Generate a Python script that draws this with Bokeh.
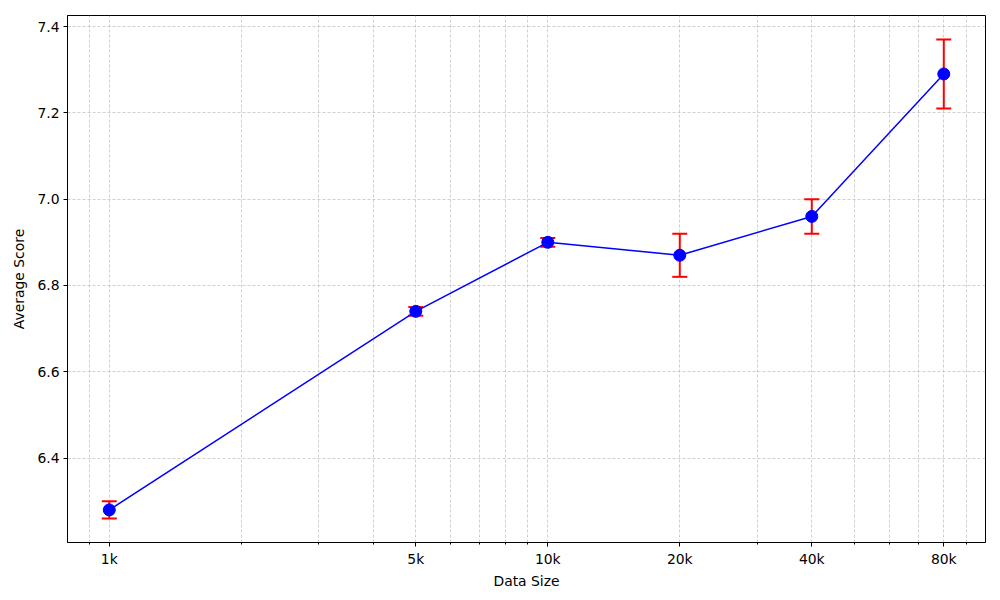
from bokeh.plotting import figure
from bokeh.models import Range1d, FixedTicker, Whisker, TeeHead, ColumnDataSource, PrintfTickFormatter
from bokeh.embed import file_html
from bokeh.resources import INLINE

data_size = [1000, 5000, 10000, 20000, 40000, 80000]
tick_labels = ["1k", "5k", "10k", "20k", "40k", "80k"]
avg_score = [6.28, 6.74, 6.90, 6.87, 6.96, 7.29]
score_err = [0.02, 0.01, 0.01, 0.05, 0.04, 0.08]
y_ticks = [6.4, 6.6, 6.8, 7.0, 7.2, 7.4]

lower = [s - e for s, e in zip(avg_score, score_err)]
upper = [s + e for s, e in zip(avg_score, score_err)]
src = ColumnDataSource(dict(x=data_size, y=avg_score, lower=lower, upper=upper))

FONT = "DejaVu Sans"

p = figure(width=1000, height=600, x_axis_type="log", output_backend="svg",
           toolbar_location=None,
           x_range=Range1d(803, 99590), y_range=Range1d(6.2045, 7.4255),
           min_border_left=67, min_border_right=15, min_border_top=15, min_border_bottom=58)

minor = [900, 2000, 3000, 4000, 6000, 7000, 8000, 9000,
         30000, 50000, 60000, 70000, 90000]
p.xaxis.ticker = FixedTicker(ticks=data_size, minor_ticks=minor)
p.xaxis.major_label_overrides = {x: l for x, l in zip(data_size, tick_labels)}
p.yaxis.ticker = FixedTicker(ticks=y_ticks)
p.yaxis.formatter = PrintfTickFormatter(format="%.1f")

p.outline_line_color = "black"
p.outline_line_width = 1
for ax in (p.xaxis, p.yaxis):
    ax.axis_line_color = "black"
    ax.major_tick_in = 0
    ax.major_tick_out = 4
    ax.minor_tick_in = 0
    ax.minor_tick_out = 2
    ax.major_label_text_font = FONT
    ax.major_label_text_font_size = "13.9px"
    ax.major_label_text_color = "black"
    ax.major_label_standoff = 4
    ax.axis_label_text_font = FONT
    ax.axis_label_text_font_size = "13.9px"
    ax.axis_label_text_font_style = "normal"
    ax.axis_label_text_color = "black"
p.yaxis.minor_tick_line_color = None
p.xaxis.axis_label = "Data Size"
p.yaxis.axis_label = "Average Score"
p.xaxis.axis_label_standoff = 3
p.yaxis.axis_label_standoff = 7

for g in (p.xgrid, p.ygrid):
    g.grid_line_color = "#b0b0b0"
    g.grid_line_width = 0.6
    g.grid_line_dash = "3 2"
p.xgrid.minor_grid_line_color = "#b0b0b0"
p.xgrid.minor_grid_line_width = 0.6
p.xgrid.minor_grid_line_dash = "3 2"

wh = Whisker(source=src, base="x", lower="lower", upper="upper", dimension="height",
             line_color="red", line_width=2,
             lower_head=TeeHead(size=15, line_color="red", line_width=2),
             upper_head=TeeHead(size=15, line_color="red", line_width=2))
p.add_layout(wh)
p.line("x", "y", source=src, line_color="blue", line_width=1.5)
p.scatter("x", "y", source=src, size=12, fill_color="blue", line_color="blue")

open("out.html", "w").write(file_html(p, INLINE))
